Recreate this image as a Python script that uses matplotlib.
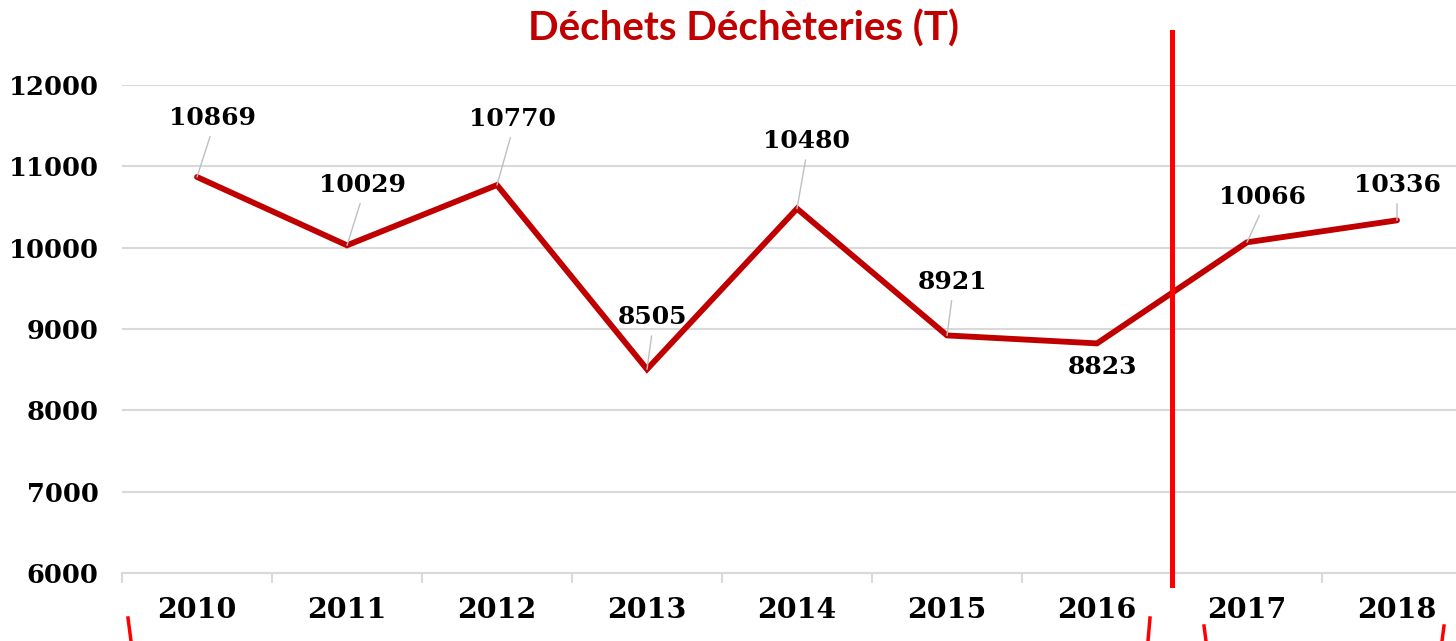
import matplotlib
matplotlib.use("Agg")
import matplotlib.pyplot as plt
from matplotlib.lines import Line2D

# ── Données ────────────────────────────────────────────────────────────────
years  = ["2010", "2011", "2012", "2013", "2014", "2015", "2016", "2017", "2018"]
tonnes = [10869, 10029, 10770, 8505, 10480, 8921, 8823, 10066, 10336]
y_ticks = [6000, 7000, 8000, 9000, 10000, 11000, 12000]

# décalages des étiquettes (points) et présence d'un trait de rappel
label_offsets = [(11, 34), (11, 35), (11, 39), (4, 29), (7, 40), (4, 30), (4, -17), (11, 24), (0, 17)]
leaders = [True, True, True, True, True, True, False, True, True]

RED_LINE = "#C00000"
RED_MARK = "#FF0000"
GRID = "#D9D9D9"

W, H = 1456, 641
fig = plt.figure(figsize=(W / 100, H / 100), dpi=100)
ax = fig.add_axes([122 / W, 68 / H, 1350 / W, 488 / H])

x = list(range(len(years)))
ax.plot(x, tonnes, color=RED_LINE, linewidth=4.2, solid_capstyle="round",
        solid_joinstyle="miter", zorder=4)

lab_font = dict(family="DejaVu Serif", weight="bold", size=18, color="black")
for xi, v, (dx, dy), lead in zip(x, tonnes, label_offsets, leaders):
    if lead:
        ax.annotate(f"{v}", xy=(xi, v), xytext=(dx, dy), textcoords="offset points",
                    ha="center", va="bottom", **lab_font,
                    arrowprops=dict(arrowstyle="-", color="#BFBFBF", lw=1.0,
                                    shrinkA=3, shrinkB=0, relpos=(0.5, 0.0)),
                    zorder=6)
    else:
        ax.annotate(f"{v}", xy=(xi, v), xytext=(dx, dy), textcoords="offset points",
                    ha="center", va="center", **lab_font, zorder=6)

ax.set_xlim(-0.5, len(years) - 0.5)
ax.set_ylim(6000, 12000)
ax.set_yticks(y_ticks)
ax.set_yticklabels([str(t) for t in y_ticks], fontfamily="DejaVu Serif",
                   fontweight="bold", fontsize=18.5)
ax.set_xticks(x)
ax.set_xticklabels(years, fontfamily="DejaVu Serif", fontweight="bold", fontsize=20.5)
ax.set_xticks([i - 0.5 for i in range(len(years) + 1)], minor=True)
ax.tick_params(axis="x", which="major", length=0, pad=17)
ax.tick_params(axis="x", which="minor", length=7, width=1.5, color=GRID)
ax.tick_params(axis="y", length=0, pad=17)

ax.grid(axis="y", color=GRID, linewidth=1.5, zorder=0)
ax.set_axisbelow(True)
for s in ("top", "right", "left"):
    ax.spines[s].set_visible(False)
ax.spines["bottom"].set_color(GRID)
ax.spines["bottom"].set_linewidth(1.5)

# trait vertical rouge entre 2016 et 2017
ax.plot([6.5, 6.5], [5852, 12651], color=RED_MARK, linewidth=3.6, clip_on=False, zorder=5)

# titre
fig.text(743 / W, 1 - 29 / H, "Déchets Déchèteries (T)", ha="center", va="center",
         fontfamily="Lato", fontweight="bold", fontsize=29, color=RED_LINE)

# amorces des cadres rouges en bas de l'image
for x0, x1, y0 in [(128, 131, 618), (1150, 1148, 618), (1204, 1206, 626), (1444, 1442, 626)]:
    fig.add_artist(Line2D([x0 / W, x1 / W], [1 - y0 / H, 0], color=RED_MARK,
                          linewidth=2.5, transform=fig.transFigure))

fig.savefig("out.png", dpi=100)
